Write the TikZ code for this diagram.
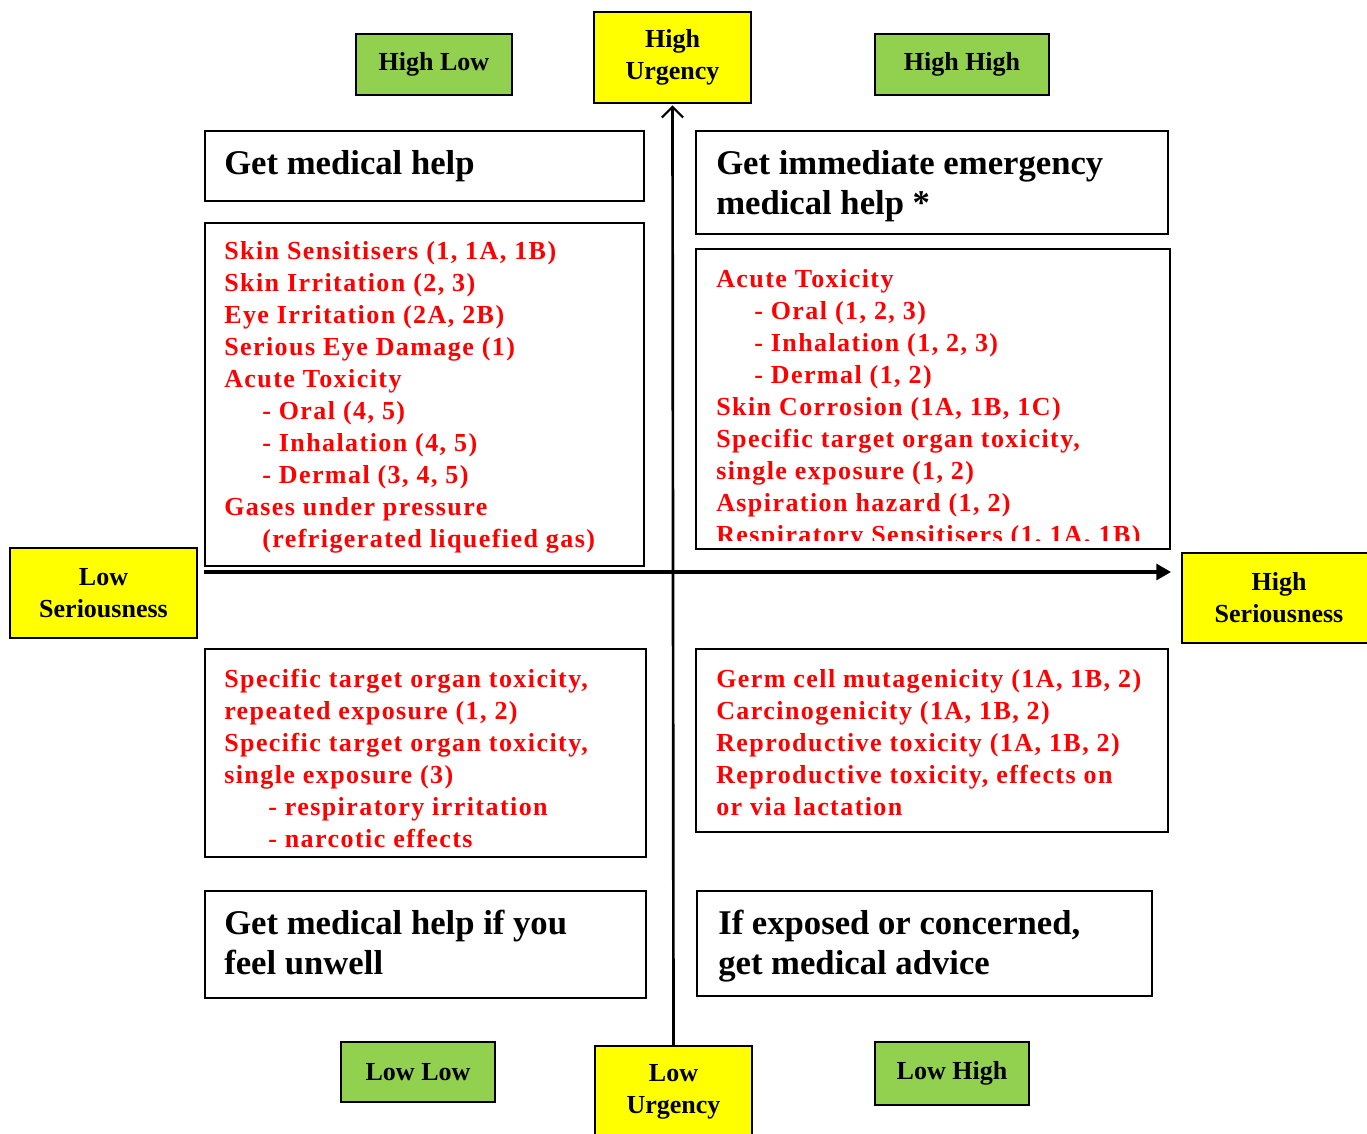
\documentclass[tikz,border=0pt]{standalone}
\usepackage{fontspec}
\setmainfont{Liberation Serif}
\newfontfamily\redfam{Liberation Serif}[LetterSpace=5.5]
\usetikzlibrary{arrows.meta}
\definecolor{labyellow}{HTML}{FFFF00}
\definecolor{labgreen}{HTML}{92D050}
\definecolor{redtxt}{HTML}{FF0000}
\tikzset{
  pxbox/.style 2 args={minimum width=#1*0.75pt, minimum height=#2*0.75pt},
  whitebox/.style={draw=black, line width=1.5pt, fill=white, inner sep=0pt},
  yellowlab/.style={draw=black, line width=1.5pt, fill=labyellow, inner sep=0pt, align=center,
    font=\bfseries\fontsize{19.5}{24}\selectfont},
  greenlab/.style={draw=black, line width=1.5pt, fill=labgreen, inner sep=0pt, align=center,
    font=\bfseries\fontsize{19.5}{24}\selectfont},
  redline/.style={anchor=base west, inner sep=0pt, text=redtxt,
    font=\redfam\bfseries\fontsize{19.5}{24}\selectfont},
  headline/.style={anchor=base west, inner sep=0pt, text=black,
    font=\bfseries\fontsize{26}{30}\selectfont},
  axis/.style={draw=black},
}
\begin{document}
\begin{tikzpicture}[x=0.75pt, y=-0.75pt]
\useasboundingbox (0,0) rectangle (1367,1133);

% label boxes
\node[greenlab, pxbox={156}{61}] (hl) at (434,64.5) {High Low};
\node[yellowlab, pxbox={157}{91}] (hu) at (672.5,57.5) {High\\Urgency};
\node[greenlab, pxbox={174}{61}] (hh) at (962,64.5) {High High};
\node[yellowlab, pxbox={187}{90}] (ls) at (103.5,593) {Low\\Seriousness};
\node[yellowlab, pxbox={194}{90}] (hs) at (1279,598) {High\\Seriousness};
\node[greenlab, pxbox={154}{60}] (ll) at (418,1072) {Low Low};
\node[yellowlab, pxbox={157}{91}] (lu) at (673.5,1091.5) {Low\\Urgency};
\node[greenlab, pxbox={154}{63}] (lh) at (952,1073.5) {Low High};

% heading boxes
\node[whitebox, pxbox={439}{70}, anchor=north west] (b1) at (204,130) {};
\node[whitebox, pxbox={472}{103}, anchor=north west] (b2) at (695,130) {};
\node[whitebox, pxbox={441}{107}, anchor=north west] (b3) at (204,890) {};
\node[whitebox, pxbox={455}{105}, anchor=north west] (b4) at (696,890) {};

% red boxes
\node[whitebox, pxbox={439}{343}, anchor=north west] (r1) at (204,222) {};
\node[whitebox, pxbox={474}{300}, anchor=north west] (r2) at (695,248) {};
\node[whitebox, pxbox={441}{208}, anchor=north west] (r3) at (204,648) {};
\node[whitebox, pxbox={472}{183}, anchor=north west] (r4) at (695,648) {};

% axes
\coordinate (hstart) at (204,572);
\coordinate (hend) at (1171,572);
\draw[axis, line width=2.4pt, -{Triangle[length=11pt,width=12pt]}] (hstart) -- (hend);
\draw[axis, line width=2pt, -{Straight Barb[length=8pt,width=16pt,line width=1.6pt]}] (lu.north) -- ([yshift=-1pt]hu.south);

% headings
\node[headline] (t1) at (224,174) {Get medical help};
\node[headline] (t2a) at (716,174) {Get immediate emergency};
\node[headline] (t2b) at (716,214) {medical help *};
\node[headline] (t3a) at (224,934) {Get medical help if you};
\node[headline] (t3b) at (224,974) {feel unwell};
\node[headline] (t4a) at (718,934) {If exposed or concerned,};
\node[headline] (t4b) at (718,974) {get medical advice};

% red text, top left
\foreach \x/\t [count=\i] in {
  224/{Skin Sensitisers (1, 1A, 1B)},
  224/{Skin Irritation (2, 3)},
  224/{Eye Irritation (2A, 2B)},
  224/{Serious Eye Damage (1)},
  224/{Acute Toxicity},
  262/{- Oral (4, 5)},
  262/{- Inhalation (4, 5)},
  262/{- Dermal (3, 4, 5)},
  224/{Gases under pressure},
  262/{(refrigerated liquefied gas)}}
  \node[redline] (tl\i) at (\x,{259+32*(\i-1)}) {\t};

% red text, top right (clipped)
\begin{scope}
\clip (697,250) rectangle (1167,540);
\foreach \x/\t [count=\i] in {
  716/{Acute Toxicity},
  754/{- Oral (1, 2, 3)},
  754/{- Inhalation (1, 2, 3)},
  754/{- Dermal (1, 2)},
  716/{Skin Corrosion (1A, 1B, 1C)},
  716/{Specific target organ toxicity,},
  716/{single exposure (1, 2)},
  716/{Aspiration hazard (1, 2)},
  716/{Respiratory Sensitisers (1, 1A, 1B)}}
  \node[redline] (tr\i) at (\x,{287+32*(\i-1)}) {\t};
\end{scope}

% red text, bottom left
\foreach \x/\t [count=\i] in {
  224/{Specific target organ toxicity,},
  224/{repeated exposure (1, 2)},
  224/{Specific target organ toxicity,},
  224/{single exposure (3)},
  268/{- respiratory irritation},
  268/{- narcotic effects}}
  \node[redline] (bl\i) at (\x,{687+32*(\i-1)}) {\t};

% red text, bottom right
\foreach \x/\t [count=\i] in {
  716/{Germ cell mutagenicity (1A, 1B, 2)},
  716/{Carcinogenicity (1A, 1B, 2)},
  716/{Reproductive toxicity (1A, 1B, 2)},
  716/{Reproductive toxicity, effects on},
  716/{or via lactation}}
  \node[redline] (br\i) at (\x,{687+32*(\i-1)}) {\t};
\end{tikzpicture}
\end{document}
